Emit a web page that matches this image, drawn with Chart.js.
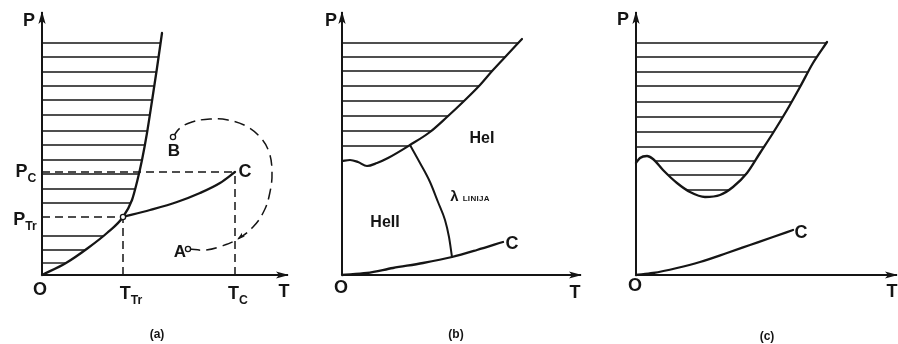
<!DOCTYPE html>
<html lang="hr">
<head>
<meta charset="utf-8">
<title>Fazni dijagrami</title>
<script src="https://cdn.jsdelivr.net/npm/chart.js@4.4.1/dist/chart.umd.min.js"></script>
<style>
  html, body { margin: 0; padding: 0; background: #fff; }
  #figure { position: relative; width: 898px; height: 344px; overflow: hidden; }
  #figure canvas { position: absolute; top: 0; }
  .lbl {
    position: absolute;
    font-family: "Liberation Sans", Arial, sans-serif;
    font-weight: bold;
    color: #151515;
    line-height: 1;
    white-space: nowrap;
    transform: translate(-50%, -50%);
  }
  .lbl sub { font-size: 0.68em; vertical-align: -0.4em; line-height: 0; }
  .lbl .small { font-size: 8px; letter-spacing: 0.3px; }
</style>
</head>
<body>
<div id="figure">
  <canvas id="panelA" width="300" height="344" style="left:0"></canvas>
  <canvas id="panelB" width="300" height="344" style="left:300px"></canvas>
  <canvas id="panelC" width="298" height="344" style="left:600px"></canvas>
</div>
<script>
const INK = '#151515';

// (a) ordinary substance -- [T, P] pairs
const aMelt = [[0, 0], [24, 12], [46, 27], [65, 42], [81, 58], [90, 75], [95, 93],
               [100, 115], [105, 142], [110, 174], [115, 207], [120, 242]];
const aTriple = [81, 58];
const aCritical = [193, 103];
const aVapor = [aTriple, [108, 65], [135, 73], [158, 82], [178, 92], aCritical];
const aPointB = [131, 138];
const aPointA = [146, 26];
const aPath = [aPointB, [138, 147], [150, 153], [168, 156], [186, 155], [204, 149], [218, 138],
               [227, 123], [230, 103], [228, 83], [222, 64], [211, 48], [196, 36], [180, 29],
               [164, 25], aPointA];
const aHatch = [232, 218, 203, 189, 175, 160, 144, 130, 115, 101, 86, 72, 39, 25, 12];

// (b) helium-4
const bMelt = [[0, 114], [8, 115], [16, 113], [25, 109], [35, 112], [46, 117], [68, 130],
               [88, 143], [105, 158], [121, 173], [138, 190], [151, 205], [165, 220], [180, 236]];
const bLambda = [[68, 130], [78, 112], [88, 93], [96, 73], [103, 55], [107, 38], [110, 18]];
const bVapor = [[0, 0], [25, 2], [51, 7], [81, 12], [110, 18], [135, 25], [161, 33]];
const bHatch = [232, 218, 204, 189, 174, 159, 144, 129];

// (c) helium-3
const cMelt = [[0, 112], [4, 117], [11, 119], [17, 116], [27, 105], [41, 92], [54, 83],
               [69, 78], [84, 80], [97, 88], [111, 102], [124, 122], [137, 142], [151, 165],
               [164, 188], [177, 212], [191, 233]];
const cVapor = [[0, 0], [17, 2], [41, 7], [64, 13], [91, 22], [114, 30], [137, 38], [157, 45]];
const cHatch = [232, 218, 203, 189, 173, 158, 143, 128, 114, 100, 85];

// axis lengths (T end, P end)
const aAxes = [246, 263];
const bAxes = [239, 263];
const cAxes = [261, 263];

const toXY = pts => pts.map(([x, y]) => ({ x, y }));

function curve(points, width, extra) {
  return Object.assign({
    data: toXY(points),
    showLine: true,
    borderColor: INK,
    borderWidth: width,
    pointRadius: 0,
    cubicInterpolationMode: 'monotone',
    borderCapStyle: 'round'
  }, extra || {});
}

function dashed(points, dash) {
  return curve(points, 1.5, { borderDash: dash, borderCapStyle: 'butt', cubicInterpolationMode: 'default' });
}

// horizontal hatching of the solid region: spans at each level where the boundary lies below it
function hatching(boundary, levels) {
  const sets = [];
  levels.forEach(level => {
    let start = boundary[0][1] < level ? 0 : null;
    for (let i = 1; i < boundary.length; i++) {
      const [x0, y0] = boundary[i - 1];
      const [x1, y1] = boundary[i];
      if ((y0 < level) !== (y1 < level)) {
        const x = x0 + (level - y0) * (x1 - x0) / (y1 - y0);
        if (start === null) {
          start = x;
        } else {
          sets.push(curve([[start, level], [x, level]], 1.4, { borderCapStyle: 'butt' }));
          start = null;
        }
      }
    }
  });
  return sets;
}

function axes(len) {
  return [
    curve([[0, 0], [0, len[1]]], 2, { arrowAt: -1, borderCapStyle: 'butt' }),
    curve([[0, 0], [len[0], 0]], 2, { arrowAt: -1, borderCapStyle: 'butt' })
  ];
}

function markers(points) {
  return {
    data: toXY(points),
    showLine: false,
    pointRadius: 2.6,
    pointBorderWidth: 1.3,
    pointBorderColor: INK,
    pointBackgroundColor: '#fff'
  };
}

// filled arrowhead on a dataset point (arrowAt: index, -1 = last), pointing along the line
const arrowHeads = {
  id: 'arrowHeads',
  afterDatasetsDraw(chart) {
    const ctx = chart.ctx;
    chart.data.datasets.forEach((ds, i) => {
      if (ds.arrowAt === undefined) return;
      const pts = chart.getDatasetMeta(i).data;
      const k = ds.arrowAt < 0 ? pts.length + ds.arrowAt : ds.arrowAt;
      const tip = pts[k];
      const prev = pts[k - 1];
      const [len, half] = ds.arrowSize || [12, 3.6];
      const ang = Math.atan2(tip.y - prev.y, tip.x - prev.x);
      ctx.save();
      ctx.translate(tip.x, tip.y);
      ctx.rotate(ang);
      ctx.beginPath();
      ctx.moveTo(1, 0);
      ctx.lineTo(-len, -half);
      ctx.lineTo(-len * 0.75, 0);
      ctx.lineTo(-len, half);
      ctx.closePath();
      ctx.fillStyle = INK;
      ctx.fill();
      ctx.restore();
    });
  }
};

// origin = where the T and P axes meet, in canvas pixels
function makePanel(id, origin, datasets, labels) {
  const canvas = document.getElementById(id);
  const chart = new Chart(canvas, {
    type: 'scatter',
    data: { datasets },
    options: {
      responsive: false,
      animation: false,
      events: [],
      layout: { padding: 0, autoPadding: false },
      plugins: { legend: { display: false }, tooltip: { enabled: false } },
      scales: {
        x: { type: 'linear', display: false, min: -origin[0], max: canvas.width - origin[0] },
        y: { type: 'linear', display: false, min: origin[1] - canvas.height, max: origin[1] }
      }
    },
    plugins: [arrowHeads]
  });

  const left = canvas.offsetLeft;
  labels.forEach(([html, t, p, size]) => {
    const el = document.createElement('div');
    el.className = 'lbl';
    el.innerHTML = html;
    el.style.fontSize = size + 'px';
    el.style.left = (left + chart.scales.x.getPixelForValue(t)) + 'px';
    el.style.top = chart.scales.y.getPixelForValue(p) + 'px';
    document.getElementById('figure').appendChild(el);
  });
  return chart;
}

// (a)
makePanel('panelA', [42, 275], [
  markers([aTriple, aPointB, aPointA]),
  curve(aMelt, 2.3),
  curve(aVapor, 2.3),
  dashed([[0, aTriple[1]], aTriple], [8, 5]),
  dashed([[aTriple[0], 0], aTriple], [8, 5]),
  dashed([[0, aCritical[1]], aCritical], [8, 5]),
  dashed([[aCritical[0], 0], aCritical], [8, 5]),
  curve(aPath, 1.5, {
    borderDash: [11, 6], borderCapStyle: 'butt', cubicInterpolationMode: 'default', tension: 0.4,
    arrowAt: 12, arrowSize: [7, 2.4]
  }),
  ...axes(aAxes),
  ...hatching(aMelt, aHatch)
], [
  ['P', -13, 255, 18],
  ['O', -2, -14, 18],
  ['T<sub>Tr</sub>', 89, -18, 18],
  ['T<sub>C</sub>', 196, -18, 18],
  ['T', 242, -16, 18],
  ['P<sub>C</sub>', -16, 104, 18],
  ['P<sub>Tr</sub>', -17, 56, 18],
  ['B', 132, 125, 17],
  ['A', 138, 24, 17],
  ['C', 203, 104, 18],
  ['(a)', 115, -59, 12]
]);

// (b)
makePanel('panelB', [42, 275], [
  curve(bMelt, 2.2),
  curve(bLambda, 2),
  curve(bVapor, 2.3),
  ...axes(bAxes),
  ...hatching(bMelt, bHatch)
], [
  ['P', -11, 255, 18],
  ['O', -1, -12, 18],
  ['T', 233, -17, 18],
  ['HeI', 140, 137, 16],
  ['HeII', 43, 53, 16],
  ['λ <span class="small">LINIJA</span>', 128, 80, 15],
  ['C', 170, 32, 18],
  ['(b)', 114, -59, 12]
]);

// (c)
makePanel('panelC', [36, 275], [
  curve(cMelt, 2.3),
  curve(cVapor, 2.3),
  ...axes(cAxes),
  ...hatching(cMelt, cHatch)
], [
  ['P', -13, 256, 18],
  ['O', -1, -10, 18],
  ['T', 256, -16, 18],
  ['C', 165, 43, 18],
  ['(c)', 131, -61, 12]
]);
</script>
</body>
</html>
